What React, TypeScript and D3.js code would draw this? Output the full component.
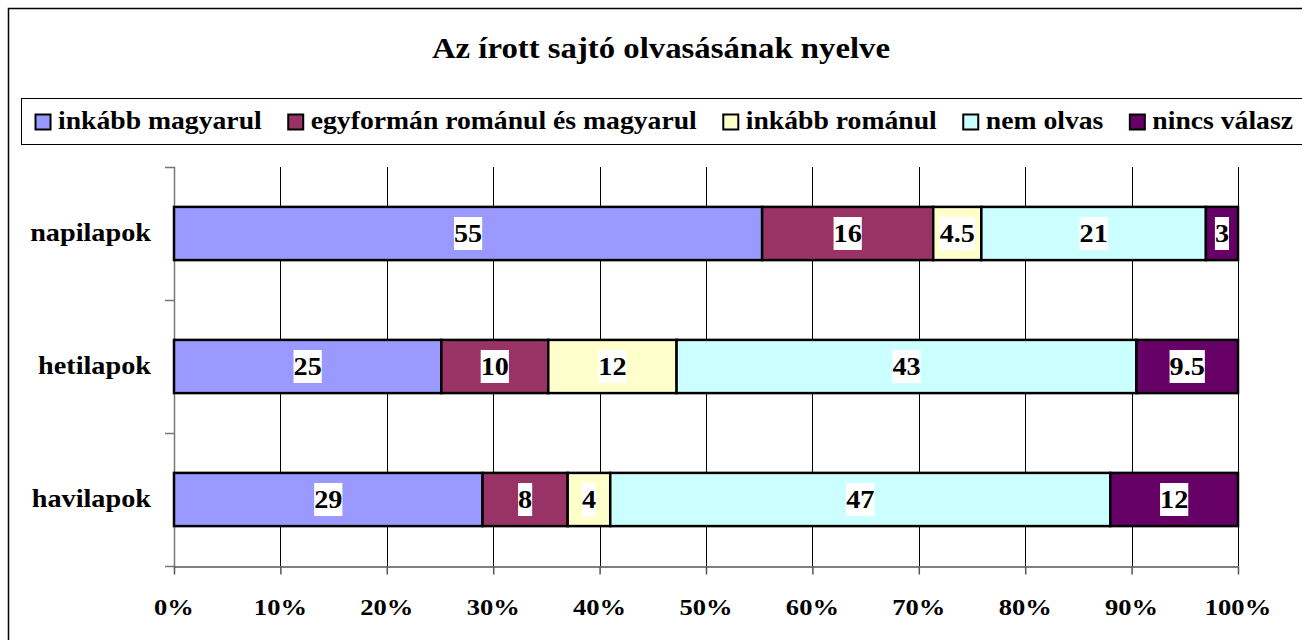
import { useEffect, useRef } from "react";
import * as d3 from "d3";

const categories = ["napilapok", "hetilapok", "havilapok"];
const seriesNames = [
  "inkább magyarul",
  "egyformán románul és magyarul",
  "inkább románul",
  "nem olvas",
  "nincs válasz",
];
const colors = ["#9999FF", "#993366", "#FFFFCC", "#CCFFFF", "#660066"];
// values per category, in series order
const napilapok = [55, 16, 4.5, 21, 3];
const hetilapok = [25, 10, 12, 43, 9.5];
const havilapok = [29, 8, 4, 47, 12];
const rows = [napilapok, hetilapok, havilapok];
const xTicks = [0, 0.1, 0.2, 0.3, 0.4, 0.5, 0.6, 0.7, 0.8, 0.9, 1];

const W = 1302;
const H = 640;
const FONT = '"Liberation Serif", "Times New Roman", serif';
const SX = 1.13; // horizontal stretch of the original text

const App = () => {
  const svgRef = useRef<SVGSVGElement>(null);

  useEffect(() => {
    if (!svgRef.current) return;
    const svg = d3.select(svgRef.current);
    svg.selectAll("*").remove();

    const x = d3.scaleLinear().domain([0, 1]).range([174, 1238]);
    const y = d3
      .scaleBand<string>()
      .domain(categories)
      .range([167, 566])
      .paddingInner(0.6)
      .paddingOuter(0.3);
    const step = y.step();

    // stretched text helper
    const addText = (
      g: d3.Selection<SVGGElement, unknown, null, undefined>,
      tx: number,
      ty: number,
      txt: string,
      size: number,
      anchor = "start",
    ) =>
      g
        .append("text")
        .attr("transform", `translate(${tx},${ty}) scale(${SX},1)`)
        .attr("text-anchor", anchor)
        .style("font-family", FONT)
        .style("font-weight", "bold")
        .style("font-size", `${size}px`)
        .attr("fill", "#000")
        .text(txt);

    // chart frame
    svg
      .append("rect")
      .attr("x", 8.5)
      .attr("y", 8.5)
      .attr("width", W + 50)
      .attr("height", H + 50)
      .attr("fill", "#fff")
      .attr("stroke", "#000")
      .attr("stroke-width", 1.5);

    const root = svg.append("g");

    // title
    addText(root, 661, 58, "Az írott sajtó olvasásának nyelve", 29, "middle");

    // legend
    root
      .append("rect")
      .attr("x", 21.5)
      .attr("y", 98.5)
      .attr("width", W + 50)
      .attr("height", 46)
      .attr("fill", "#fff")
      .attr("stroke", "#000")
      .attr("stroke-width", 1);
    const legend = root.append("g");
    let lx = 35;
    seriesNames.forEach((name, i) => {
      legend
        .append("rect")
        .attr("x", lx + 0.5)
        .attr("y", 114.5)
        .attr("width", 15)
        .attr("height", 15)
        .attr("fill", colors[i])
        .attr("stroke", "#000")
        .attr("stroke-width", 2);
      const t = addText(legend, lx + 23, 129, name, 24.5);
      const w = (t.node() as SVGTextElement).getComputedTextLength() * SX;
      lx += 23 + w + 26;
    });

    // grid lines
    const grid = root.append("g");
    grid
      .selectAll("line")
      .data(xTicks.slice(1))
      .enter()
      .append("line")
      .attr("x1", (d) => Math.round(x(d)) + 0.5)
      .attr("x2", (d) => Math.round(x(d)) + 0.5)
      .attr("y1", 167)
      .attr("y2", 566)
      .attr("stroke", "#000")
      .attr("stroke-width", 1);

    // y axis
    const yAxis = root.append("g").attr("stroke", "#777");
    yAxis
      .append("line")
      .attr("x1", 174.5)
      .attr("x2", 174.5)
      .attr("y1", 167)
      .attr("y2", 566)
      .attr("stroke-width", 1.5);
    const yBounds = d3.range(categories.length + 1).map((i) => 167 + i * step);
    yAxis
      .selectAll("line.tick")
      .data(yBounds)
      .enter()
      .append("line")
      .attr("class", "tick")
      .attr("x1", 165)
      .attr("x2", 175)
      .attr("y1", (d) => Math.round(d) + 0.5)
      .attr("y2", (d) => Math.round(d) + 0.5)
      .attr("stroke-width", 1.5);

    // x axis
    const xAxis = root
      .append("g")
      .attr("transform", "translate(0,566.5)")
      .call(
        d3
          .axisBottom(x)
          .tickValues(xTicks)
          .tickSize(8)
          .tickSizeOuter(0)
          .tickFormat(() => ""),
      );
    xAxis.select(".domain").attr("stroke", "#555").attr("stroke-width", 1.5);
    xAxis.selectAll(".tick line").attr("stroke", "#555").attr("stroke-width", 1.5);
    xTicks.forEach((t) => {
      addText(root, x(t), 615, `${Math.round(t * 100)}%`, 23.5, "middle");
    });

    // category labels
    categories.forEach((c) => {
      addText(root, 151, (y(c) ?? 0) + y.bandwidth() / 2 + 7.5, c, 25, "end");
    });

    // bars
    const bars = root.append("g");
    const labels = root.append("g");
    categories.forEach((c, ci) => {
      const vals = rows[ci];
      const total = d3.sum(vals);
      let acc = 0;
      vals.forEach((v, si) => {
        const x0 = x(acc / total);
        acc += v;
        const x1 = x(acc / total);
        bars
          .append("rect")
          .attr("x", x0)
          .attr("y", y(c) ?? 0)
          .attr("width", x1 - x0)
          .attr("height", y.bandwidth())
          .attr("fill", colors[si])
          .attr("stroke", "#000")
          .attr("stroke-width", 2.5);
        const cx = (x0 + x1) / 2;
        const cy = (y(c) ?? 0) + y.bandwidth() / 2;
        const lg = labels.append("g");
        const bg = lg.append("rect").attr("fill", "#fff");
        const t = addText(lg, cx, cy + 8.5, String(v), 25, "middle");
        const w = (t.node() as SVGTextElement).getComputedTextLength() * SX;
        bg.attr("x", cx - w / 2)
          .attr("y", cy - 16.5)
          .attr("width", w)
          .attr("height", 33);
      });
    });
  }, []);

  return (
    <svg
      ref={svgRef}
      width={W}
      height={H}
      style={{ position: "absolute", left: 0, top: 0, overflow: "hidden" }}
    ></svg>
  );
};

export default App;
